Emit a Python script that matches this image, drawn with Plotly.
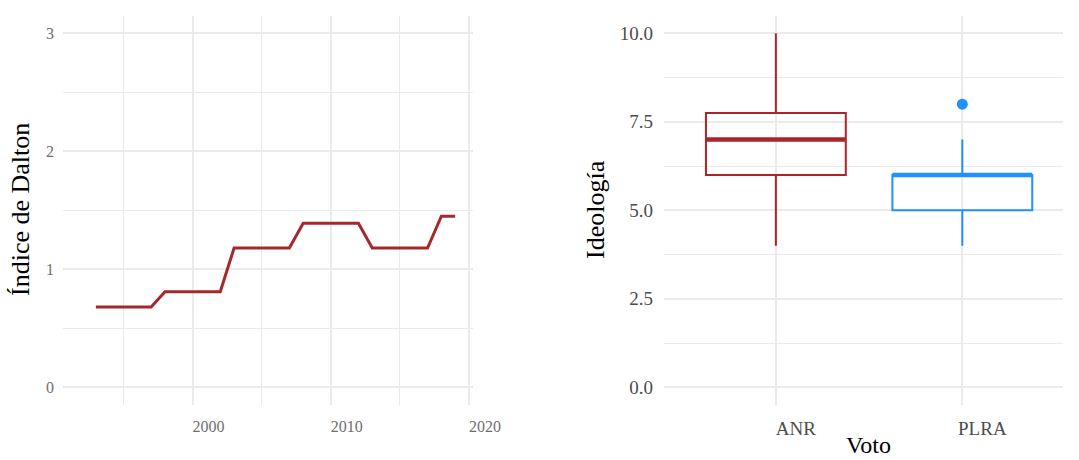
"""
Dalton index over time and ideology by vote (ANR vs PLRA).
"""

import plotly.graph_objects as go

# Left panel: Dalton polarization index by year
years = [1993, 1994, 1995, 1996, 1997, 1998, 1999, 2000, 2001, 2002,
         2003, 2004, 2005, 2006, 2007, 2008, 2009, 2010, 2011, 2012,
         2013, 2014, 2015, 2016, 2017, 2018, 2019]
dalton = [0.68, 0.68, 0.68, 0.68, 0.68, 0.81, 0.81, 0.81, 0.81, 0.81,
          1.18, 1.18, 1.18, 1.18, 1.18, 1.39, 1.39, 1.39, 1.39, 1.39,
          1.18, 1.18, 1.18, 1.18, 1.18, 1.45, 1.45]

# Right panel: ideology box stats per party
parties = ['ANR', 'PLRA']
q1 = [6.0, 5.0]
median = [7.0, 6.0]
q3 = [7.75, 6.0]
lower = [4.0, 4.0]
upper = [10.0, 7.0]
outlier_party = ['PLRA']
outlier_val = [8.0]

COLORS = {'ANR': '#AC2429', 'PLRA': '#1E90FF'}
LINE_COL = '#A5282D'
GRID = '#EBEBEB'
FONT = 'Liberation Serif'
BOX_W = 0.75

fig = go.Figure()

fig.add_trace(go.Scatter(
    x=years, y=dalton, mode='lines',
    line=dict(color=LINE_COL, width=3),
    xaxis='x', yaxis='y', showlegend=False,
))

for i, p in enumerate(parties):
    pos = i + 1
    fig.add_trace(go.Box(
        x=[pos], q1=[q1[i]], median=[median[i]], q3=[q3[i]],
        lowerfence=[lower[i]], upperfence=[upper[i]],
        width=BOX_W, fillcolor='rgba(0,0,0,0)',
        line=dict(color=COLORS[p], width=2),
        whiskerwidth=0, xaxis='x2', yaxis='y2', showlegend=False,
    ))
    # thicker median bar, like ggplot
    fig.add_trace(go.Scatter(
        x=[pos - BOX_W / 2, pos + BOX_W / 2], y=[median[i], median[i]],
        mode='lines', line=dict(color=COLORS[p], width=4.5),
        xaxis='x2', yaxis='y2', showlegend=False, hoverinfo='skip',
    ))

fig.add_trace(go.Scatter(
    x=[parties.index(p) + 1 for p in outlier_party], y=outlier_val,
    mode='markers', marker=dict(color=COLORS['PLRA'], size=11),
    xaxis='x2', yaxis='y2', showlegend=False,
))

AXIS_COMMON = dict(showgrid=True, gridcolor=GRID, gridwidth=1.6, zeroline=False,
                   showline=False, ticks='', automargin=False)

fig.update_layout(
    width=1079, height=460,
    margin=dict(l=0, r=0, t=0, b=0),
    plot_bgcolor='white', paper_bgcolor='white',
    font=dict(family=FONT),
    xaxis=dict(
        domain=[63 / 1079, 473 / 1079], range=[1990.62, 2020.29],
        tickvals=[2000, 2010, 2020],
        minor=dict(tickvals=[1995, 2005, 2015], showgrid=True, gridcolor=GRID, gridwidth=1),
        tickfont=dict(size=16, color='#6E6E6E'), ticklabelshift=16, ticklabelstandoff=10,
        anchor='y', **AXIS_COMMON,
    ),
    yaxis=dict(
        domain=[1 - 405 / 460, 1 - 16 / 460], range=[-0.15, 3.147],
        tickvals=[0, 1, 2, 3],
        minor=dict(tickvals=[0.5, 1.5, 2.5], showgrid=True, gridcolor=GRID, gridwidth=1),
        tickfont=dict(size=16, color='#6E6E6E'), ticklabelstandoff=8,
        anchor='x', **AXIS_COMMON,
    ),
    xaxis2=dict(
        domain=[664 / 1079, 1063 / 1079], range=[0.4, 2.54],
        tickvals=[1, 2], ticktext=parties,
        tickfont=dict(size=19, color='#4D4D4D'), ticklabelshift=20, ticklabelstandoff=10,
        anchor='y2', **AXIS_COMMON,
    ),
    yaxis2=dict(
        domain=[1 - 405 / 460, 1 - 16 / 460], range=[-0.5, 10.49],
        tickvals=[0, 2.5, 5, 7.5, 10], tickformat='.1f',
        minor=dict(tickvals=[1.25, 3.75, 6.25, 8.75], showgrid=True, gridcolor=GRID, gridwidth=1),
        tickfont=dict(size=19, color='#4D4D4D'), ticklabelstandoff=10,
        anchor='x2', **AXIS_COMMON,
    ),
    annotations=[
        dict(text='Índice de Dalton', xref='paper', yref='paper', x=20 / 1079, y=1 - 210 / 460,
             textangle=-90, showarrow=False, xanchor='center', yanchor='middle',
             font=dict(size=26, color='black')),
        dict(text='Ideología', xref='paper', yref='paper', x=595 / 1079, y=1 - 210 / 460,
             textangle=-90, showarrow=False, xanchor='center', yanchor='middle',
             font=dict(size=26, color='black')),
        # x title sits at the very bottom edge, as in the original
        dict(text='Voto', xref='paper', yref='paper', x=868 / 1079, y=0,
             showarrow=False, xanchor='center', yanchor='bottom',
             font=dict(size=24, color='black')),
    ],
)

# drop the default body margin so the 1079x460 figure fills the window exactly
fig.write_html("out.html", config=dict(displayModeBar=False),
               post_script="document.body.style.margin = '0';")
